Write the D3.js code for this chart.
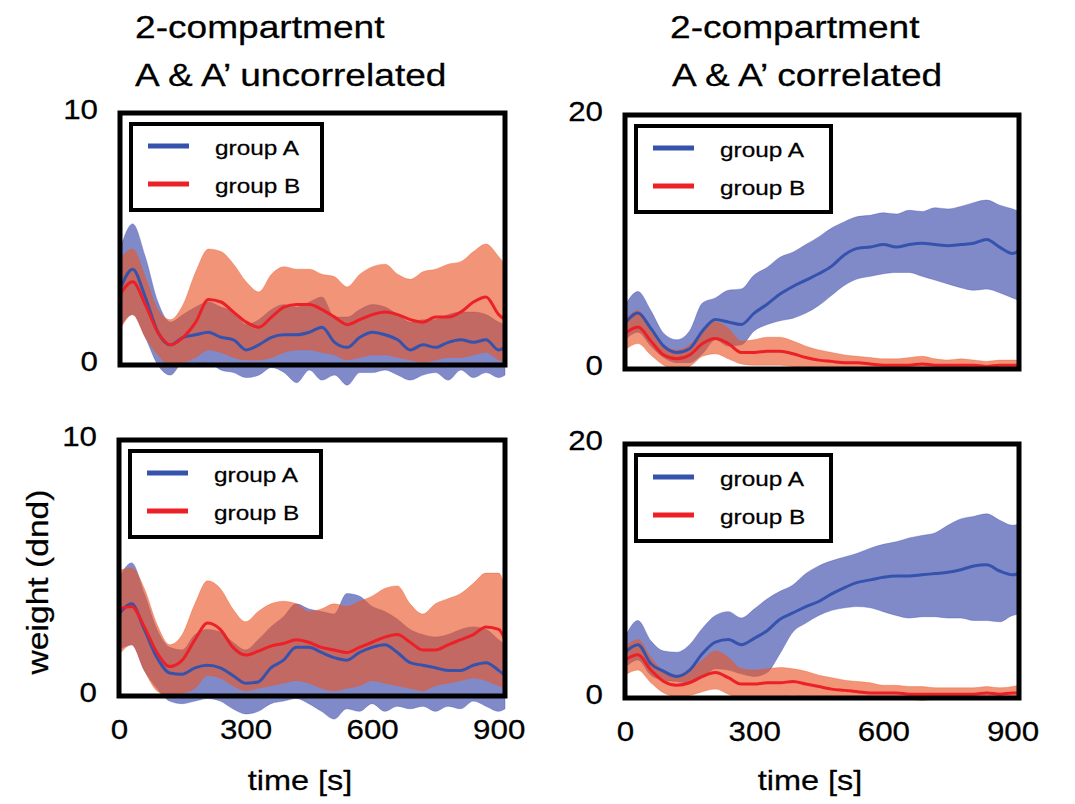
<!DOCTYPE html>
<html>
<head>
<meta charset="utf-8">
<script src="https://cdn.jsdelivr.net/npm/d3@7"></script>
<style>
body { margin: 0; background: #fff; }
svg text { font-family: "Liberation Sans", Arial, Helvetica, sans-serif; fill: #000; stroke: #000; stroke-width: 0.25px; }
</style>
</head>
<body>
<script>
// svg size
var w = 1075;
var h = 804;

// ---- data ----
// time samples [s]
var times = [0, 30, 60, 90, 120, 150, 180, 210, 240, 270, 300, 330, 360, 390, 420, 450,
    480, 510, 540, 570, 600, 630, 660, 690, 720, 750, 780, 810, 840, 870, 900, 915];
var xTicks = [0, 300, 600, 900];
var legendNames = ["group A", "group B"];
var titleLeft = ["2-compartment", "A & A\u2019 uncorrelated"];
var titleRight = ["2-compartment", "A & A\u2019 correlated"];

// top left: uncorrelated
var tlBlueMean = [3.0, 3.8, 2.7, 1.3, 0.8, 1.1, 1.2, 1.3, 1.1, 1.0, 0.6, 0.8, 1.1, 1.2, 1.2, 1.3, 1.5, 0.9, 0.7, 1.1, 1.3, 1.2, 1.0, 0.6, 0.8, 0.7, 0.9, 1.0, 0.9, 1.0, 0.6, 0.7];
var tlBlueHi = [4.6, 5.6, 4.3, 2.5, 1.7, 2.0, 2.3, 2.5, 2.3, 2.1, 1.6, 1.8, 2.2, 2.4, 2.3, 2.5, 2.7, 1.9, 1.9, 2.2, 2.4, 2.3, 2.0, 1.7, 1.8, 1.8, 2.0, 2.1, 2.1, 2.0, 1.7, 1.6];
var tlBlueLo = [1.5, 2.0, 1.1, 0.0, -0.4, 0.1, 0.0, 0.1, -0.2, -0.3, -0.5, -0.4, -0.1, -0.3, -0.7, -0.2, -0.6, -0.4, -0.8, -0.3, -0.3, -0.2, -0.4, -0.6, -0.4, -0.3, -0.6, -0.2, -0.5, -0.3, -0.5, -0.4];
var tlRedMean = [2.8, 3.3, 2.4, 1.3, 0.8, 1.1, 1.7, 2.6, 2.5, 2.1, 1.7, 1.5, 1.9, 2.3, 2.4, 2.4, 2.2, 1.9, 1.6, 1.8, 2.0, 2.1, 2.0, 1.8, 1.7, 1.9, 1.9, 2.1, 2.5, 2.7, 2.0, 1.8];
var tlRedHi = [4.2, 4.6, 3.5, 2.2, 1.8, 2.4, 3.7, 4.6, 4.5, 4.0, 3.3, 2.9, 3.6, 3.9, 3.8, 3.8, 3.6, 3.5, 3.1, 3.6, 3.9, 4.0, 3.6, 3.4, 3.7, 3.8, 4.0, 4.1, 4.5, 4.8, 4.3, 4.0];
var tlRedLo = [1.4, 2.0, 1.1, 0.4, 0.0, 0.1, 0.3, 0.6, 0.5, 0.3, 0.2, 0.2, 0.3, 0.5, 0.6, 0.6, 0.5, 0.4, 0.2, 0.3, 0.4, 0.4, 0.3, 0.2, 0.1, 0.2, 0.3, 0.3, 0.4, 0.5, 0.2, 0.1];

// top right: correlated
var trBlueMean = [3.6, 4.4, 3.2, 1.8, 1.3, 1.6, 3.0, 3.9, 3.7, 3.5, 4.4, 5.1, 5.9, 6.5, 7.0, 7.5, 8.1, 9.0, 9.5, 9.6, 9.8, 9.6, 9.8, 9.9, 9.8, 9.7, 9.8, 9.9, 10.2, 9.6, 9.1, 9.3];
var trBlueHi = [5.0, 6.1, 4.6, 2.8, 2.3, 3.0, 5.2, 5.6, 6.2, 6.3, 7.4, 8.0, 8.8, 9.2, 9.8, 10.4, 11.1, 11.6, 12.0, 12.1, 12.3, 12.2, 12.5, 12.4, 12.7, 12.6, 12.8, 13.1, 13.3, 12.9, 12.6, 12.4];
var trBlueLo = [2.3, 2.9, 1.8, 0.9, 0.5, 0.5, 1.2, 2.3, 1.8, 1.9, 3.0, 3.5, 3.8, 4.0, 4.4, 5.0, 5.8, 6.6, 7.1, 7.3, 7.5, 7.6, 7.6, 7.3, 7.0, 6.7, 6.4, 6.2, 6.3, 6.0, 5.6, 5.4];
var trRedMean = [2.8, 3.3, 2.2, 1.1, 0.8, 1.1, 2.0, 2.4, 2.0, 1.3, 1.3, 1.4, 1.4, 1.2, 0.9, 0.7, 0.6, 0.5, 0.5, 0.4, 0.3, 0.3, 0.3, 0.4, 0.3, 0.3, 0.3, 0.3, 0.2, 0.3, 0.3, 0.3];
var trRedHi = [3.8, 4.6, 3.2, 1.9, 1.5, 1.9, 3.0, 3.7, 3.2, 2.2, 2.3, 2.5, 2.5, 2.2, 1.8, 1.5, 1.3, 1.1, 1.0, 0.9, 0.8, 0.8, 0.9, 1.0, 0.8, 0.7, 0.8, 0.7, 0.6, 0.7, 0.7, 0.7];
var trRedLo = [1.5, 2.0, 1.1, 0.3, 0.0, 0.2, 1.0, 1.2, 0.8, 0.4, 0.3, 0.3, 0.3, 0.2, 0.1, 0.0, 0.0, -0.1, 0.0, -0.1, -0.1, 0.0, -0.1, 0.0, -0.1, -0.1, 0.0, -0.1, -0.1, -0.1, -0.1, -0.1];

// bottom left: uncorrelated
var blBlueMean = [3.2, 3.6, 2.6, 1.5, 0.9, 0.85, 1.1, 1.2, 1.1, 0.8, 0.5, 0.55, 1.1, 1.4, 1.9, 1.9, 1.7, 1.5, 1.4, 1.7, 1.9, 2.0, 1.7, 1.3, 1.2, 1.1, 1.0, 1.0, 1.2, 1.3, 1.0, 0.8];
var blBlueHi = [4.6, 5.2, 4.0, 2.6, 1.9, 1.8, 2.4, 2.6, 2.5, 2.1, 1.8, 2.2, 2.7, 3.1, 3.6, 3.4, 3.3, 3.2, 4.0, 3.9, 3.5, 3.3, 3.0, 2.6, 2.4, 2.3, 2.4, 2.6, 2.7, 2.6, 2.2, 2.0];
var blBlueLo = [1.8, 2.0, 1.0, 0.3, -0.2, -0.3, -0.2, -0.1, -0.2, -0.5, -0.7, -0.6, -0.3, -0.2, -0.1, -0.3, -0.6, -0.9, -0.5, -0.6, -0.3, -0.6, -0.4, -0.5, -0.4, -0.6, -0.4, -0.5, -0.2, -0.4, -0.6, -0.5];
var blRedMean = [3.4, 3.5, 2.7, 1.7, 1.15, 1.4, 2.2, 2.85, 2.6, 1.9, 1.6, 1.75, 1.95, 2.05, 2.2, 2.1, 1.9, 1.8, 1.7, 1.9, 2.1, 2.3, 2.4, 2.1, 1.8, 1.8, 2.0, 2.2, 2.4, 2.7, 2.6, 2.2];
var blRedHi = [4.9, 5.0, 4.2, 2.8, 2.0, 2.4, 3.6, 4.5, 4.2, 3.4, 2.9, 3.3, 3.6, 3.7, 3.6, 3.3, 3.4, 3.6, 3.5, 3.7, 3.9, 4.2, 4.3, 3.6, 3.2, 3.6, 3.8, 4.0, 4.4, 4.8, 4.8, 4.2];
var blRedLo = [1.6, 2.0, 1.0, 0.2, 0.0, 0.1, 0.3, 0.8, 0.7, 0.4, 0.2, 0.3, 0.4, 0.5, 0.6, 0.5, 0.3, 0.2, 0.3, 0.4, 0.6, 0.5, 0.4, 0.3, 0.2, 0.4, 0.5, 0.6, 0.7, 0.6, 0.4, 0.3];

// bottom right: correlated
var brBlueMean = [3.6, 4.2, 2.7, 2.1, 1.7, 2.2, 3.5, 4.4, 4.6, 4.2, 4.7, 5.3, 6.2, 6.7, 7.2, 7.6, 8.2, 8.7, 9.1, 9.3, 9.5, 9.6, 9.6, 9.7, 9.8, 9.9, 10.1, 10.4, 10.5, 10.0, 9.7, 9.8];
var brBlueHi = [4.8, 6.1, 4.5, 3.7, 3.6, 4.2, 5.5, 6.5, 6.8, 6.3, 7.0, 7.8, 8.4, 8.9, 9.8, 10.4, 10.8, 11.1, 11.4, 11.8, 12.1, 12.3, 12.6, 12.8, 13.0, 13.6, 14.1, 14.3, 14.5, 14.0, 13.6, 13.7];
var brBlueLo = [2.4, 3.0, 1.8, 1.4, 1.3, 1.2, 1.6, 2.3, 2.2, 1.9, 1.7, 2.0, 3.5, 5.2, 5.9, 6.5, 6.9, 7.1, 7.2, 7.1, 6.8, 6.5, 6.3, 6.4, 6.4, 6.3, 6.3, 6.1, 6.1, 6.0, 6.5, 6.6];
var brRedMean = [3.0, 3.4, 2.2, 1.3, 1.0, 1.2, 1.7, 2.0, 1.6, 1.1, 1.1, 1.2, 1.2, 1.3, 1.1, 0.9, 0.7, 0.6, 0.5, 0.4, 0.4, 0.4, 0.3, 0.3, 0.3, 0.3, 0.3, 0.3, 0.4, 0.3, 0.4, 0.4];
var brRedHi = [4.0, 4.6, 3.2, 2.1, 1.8, 2.2, 3.0, 3.7, 3.2, 2.3, 2.2, 2.3, 2.4, 2.3, 2.1, 1.8, 1.6, 1.4, 1.3, 1.2, 1.0, 1.0, 0.9, 0.9, 0.8, 0.8, 0.8, 0.8, 0.9, 0.8, 0.9, 1.0];
var brRedLo = [1.8, 2.2, 1.2, 0.4, 0.1, 0.2, 0.5, 0.7, 0.3, 0.0, 0.0, 0.1, 0.1, 0.2, 0.1, 0.0, -0.1, -0.1, -0.1, -0.1, -0.1, -0.1, -0.1, -0.2, -0.1, -0.1, -0.1, -0.1, -0.1, -0.1, -0.1, -0.1];

// ---- style ----
var blueLine = "#3553ad";
var blueFill = "rgb(55,70,170)";
var redLine = "#ec2027";
var redFill = "rgb(235,85,40)";
var stretch = 1.16;   // the glyphs in the figure are a bit wide

// panel boxes: left, top, right, bottom (box line centers)
var panels = [
    { box: [120, 113, 505, 365], yMax: 10, blue: [tlBlueMean, tlBlueLo, tlBlueHi], red: [tlRedMean, tlRedLo, tlRedHi], title: titleLeft, bottomRow: false },
    { box: [625, 115, 1019, 369], yMax: 20, blue: [trBlueMean, trBlueLo, trBlueHi], red: [trRedMean, trRedLo, trRedHi], title: titleRight, bottomRow: false },
    { box: [119, 440, 505, 696], yMax: 10, blue: [blBlueMean, blBlueLo, blBlueHi], red: [blRedMean, blRedLo, blRedHi], title: null, bottomRow: true },
    { box: [625, 444, 1019, 698], yMax: 20, blue: [brBlueMean, brBlueLo, brBlueHi], red: [brRedMean, brRedLo, brRedHi], title: null, bottomRow: true }
];

var svg = d3.select("body").append("svg")
    .attr("width", w)
    .attr("height", h);

svg.append("rect")
    .attr("width", w)
    .attr("height", h)
    .attr("fill", "#fff");

// plain text helper, glyphs widened a little
function addText(x, y, str, size, anchor, rot) {
    return svg.append("text")
        .attr("transform", "translate(" + x + "," + y + ")" + (rot ? " rotate(-90)" : "") + " scale(" + stretch + ",1)")
        .attr("font-size", size)
        .attr("text-anchor", anchor || "start")
        .text(str);
}

panels.forEach(function (p) {
    var left = p.box[0], top = p.box[1], right = p.box[2], bottom = p.box[3];

    var x = d3.scaleLinear().domain([0, 915]).range([left, right]);
    var y = d3.scaleLinear().domain([0, p.yMax]).range([bottom, top]);
    var idx = d3.range(times.length);

    var g = svg.append("g");

    function band(s, color) {
        var area = d3.area()
            .x(function (i) { return x(times[i]); })
            .y0(function (i) { return y(s[1][i]); })
            .y1(function (i) { return y(s[2][i]); })
            .curve(d3.curveMonotoneX);
        g.append("path")
            .datum(idx)
            .attr("d", area)
            .attr("fill", color)
            .attr("fill-opacity", 0.63)
            .attr("stroke", color)
            .attr("stroke-opacity", 0.35)
            .attr("stroke-width", 1);
    }
    function meanLine(s, color) {
        var line = d3.line()
            .x(function (i) { return x(times[i]); })
            .y(function (i) { return y(s[0][i]); })
            .curve(d3.curveMonotoneX);
        g.append("path")
            .datum(idx)
            .attr("d", line)
            .attr("fill", "none")
            .attr("stroke", color)
            .attr("stroke-width", 3);
    }

    band(p.blue, blueFill);
    band(p.red, redFill);
    meanLine(p.blue, blueLine);
    meanLine(p.red, redLine);

    // frame
    svg.append("rect")
        .attr("x", left)
        .attr("y", top)
        .attr("width", right - left)
        .attr("height", bottom - top)
        .attr("fill", "none")
        .attr("stroke", "#000")
        .attr("stroke-width", 5);

    // y ticks: only 0 and max
    var yAxis = svg.append("g")
        .attr("transform", "translate(" + left + ",0)")
        .call(d3.axisLeft(y).tickValues([0, p.yMax]).tickSize(0).tickPadding(19));
    yAxis.select(".domain").remove();
    yAxis.selectAll("text")
        .attr("font-size", 27)
        .attr("font-family", "Liberation Sans, Arial, sans-serif")
        .attr("dy", "0.22em")
        .attr("transform", "scale(" + stretch + ",1)");

    if (p.bottomRow) {
        var xAxis = svg.append("g")
            .attr("transform", "translate(0," + bottom + ")")
            .call(d3.axisBottom(x).tickValues(xTicks).tickSize(0).tickPadding(24));
        xAxis.select(".domain").remove();
        xAxis.selectAll("text")
            .attr("font-size", 27)
            .attr("font-family", "Liberation Sans, Arial, sans-serif")
            .attr("transform", "scale(" + stretch + ",1)");
        addText((left + right) / 2 - 12, 790, "time [s]", 28, "middle");
    }

    if (p.title) {
        addText(left + 15 + (left > 600 ? 30 : 0), 38, p.title[0], 32);
        addText(left + 15 + (left > 600 ? 32 : 0), 86, p.title[1], 32);
    }

    // legend
    var lx = left + 11, ly = top + 11;
    var lw = left > 600 ? 195 : 191;
    svg.append("rect")
        .attr("x", lx)
        .attr("y", ly)
        .attr("width", lw)
        .attr("height", 86)
        .attr("fill", "#fff")
        .attr("stroke", "#000")
        .attr("stroke-width", 4);
    [blueLine, redLine].forEach(function (c, k) {
        var rowY = ly + 22 + k * 38;
        svg.append("line")
            .attr("x1", lx + 17)
            .attr("x2", lx + 58)
            .attr("y1", rowY)
            .attr("y2", rowY)
            .attr("stroke", c)
            .attr("stroke-width", 5);
        addText(lx + 84, rowY + 9, legendNames[k], 21);
    });
});

// shared y label
addText(48, 582, "weight (dnd)", 29, "middle", true);
</script>
</body>
</html>
